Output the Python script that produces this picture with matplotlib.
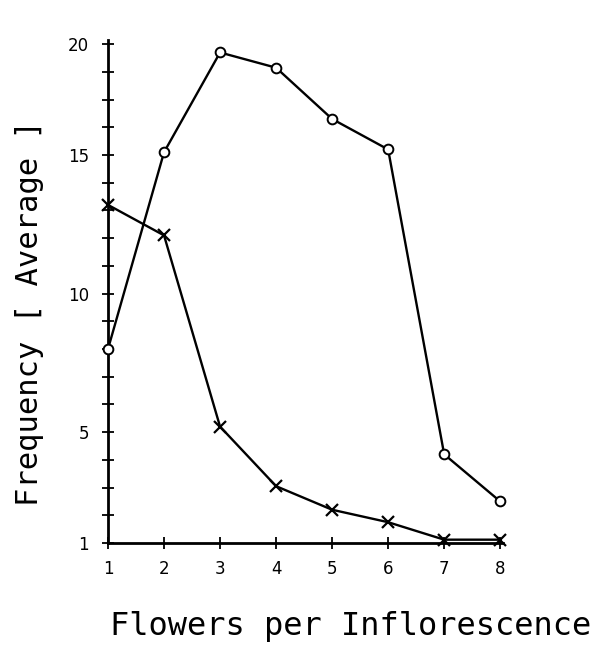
import matplotlib
matplotlib.use("Agg")
import matplotlib.pyplot as plt

# flowers per inflorescence
flowers = [1, 2, 3, 4, 5, 6, 7, 8]

# open circles
circles = [8.0, 15.1, 18.7, 18.15, 16.3, 15.2, 4.2, 2.5]
# crosses
crosses = [13.2, 12.1, 5.2, 3.05, 2.2, 1.75, 1.12, 1.12]

# the drawn scale has its top tick (labelled 20) one step above 15 + 4
ytick_pos = [1, 5, 10, 15, 19]
ytick_labels = ["1", "5", "10", "15", "20"]
yminor = list(range(1, 20))


def plot_chart():
    fig = plt.figure(figsize=(6.06, 6.56), dpi=100)
    ax = fig.add_axes([108 / 606, 113 / 656, 395 / 606, 503 / 656])

    ax.plot(flowers, circles, color="black", lw=1.7, marker="o", ms=7,
            mfc="white", mec="black", mew=1.4, clip_on=False, zorder=3)
    ax.plot(flowers, crosses, color="black", lw=1.7, marker="x", ms=8,
            mew=1.6, clip_on=False, zorder=3)

    ax.set_xlim(1, 8.05)
    ax.set_ylim(1, 19.15)

    for s in ["top", "right"]:
        ax.spines[s].set_visible(False)
    for s in ["left", "bottom"]:
        ax.spines[s].set_linewidth(2)

    ax.set_xticks(flowers)
    ax.set_xticklabels([str(f) for f in flowers])
    ax.set_yticks(ytick_pos)
    ax.set_yticklabels(ytick_labels)
    ax.set_yticks(yminor, minor=True)

    ax.tick_params(axis="both", which="both", direction="inout", width=1.3,
                   length=9, labelsize=12)
    ax.tick_params(axis="y", pad=9)
    ax.tick_params(axis="x", pad=8)

    ax.set_xlabel("Flowers per Inflorescence", family="DejaVu Sans Mono",
                  fontsize=23)
    ax.xaxis.set_label_coords(0.613, -0.135)
    ax.set_ylabel("Frequency [ Average ]", family="DejaVu Sans Mono",
                  fontsize=22)
    ax.yaxis.set_label_coords(-0.162, 0.457)

    fig.savefig("out.png", dpi=100)


plot_chart()
